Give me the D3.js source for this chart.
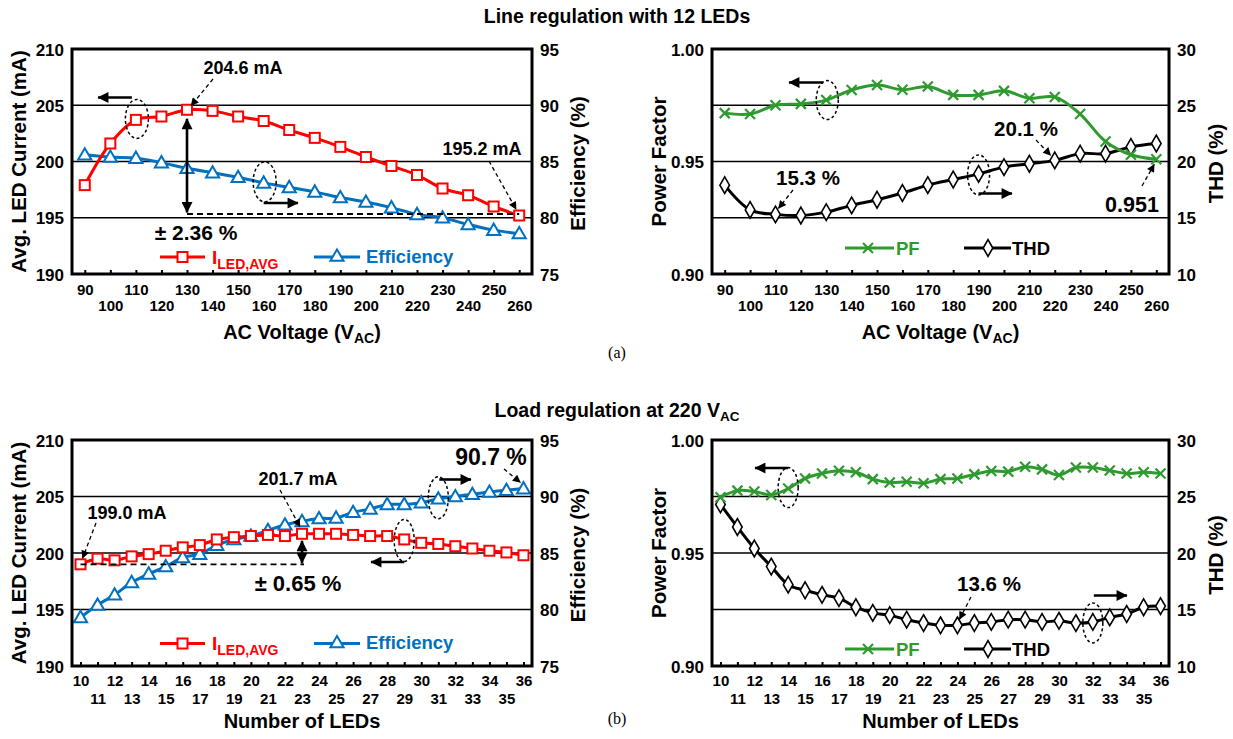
<!DOCTYPE html>
<html><head><meta charset="utf-8">
<script src="https://cdn.jsdelivr.net/npm/d3@7"></script>
<style>
body{margin:0;background:#fff;}
svg{display:block;}
text{font-family:Arial,"Liberation Sans",Helvetica,sans-serif;font-weight:bold;fill:#000;}
</style>
</head><body>
<svg id="c" width="1233" height="739"></svg>
<script>
// ---------- DATA ----------
const voltages = [90,100,110,120,130,140,150,160,170,180,190,200,210,220,230,240,250,260];
const iledVsVoltage = [197.9,201.6,203.7,204.0,204.6,204.5,204.0,203.6,202.8,202.1,201.3,200.4,199.6,198.8,197.6,197.0,196.0,195.2];
const effVsVoltage = [85.6,85.4,85.3,84.9,84.4,84.0,83.6,83.1,82.7,82.3,81.8,81.4,80.9,80.3,80.0,79.4,78.9,78.6];
const pfVsVoltage = [0.9715,0.9711,0.9750,0.9756,0.9773,0.9818,0.9840,0.9819,0.9833,0.9796,0.9796,0.9814,0.9781,0.9787,0.9711,0.9589,0.9530,0.9510];
const thdVsVoltage = [17.9,15.7,15.3,15.2,15.5,16.1,16.6,17.2,17.9,18.4,18.9,19.5,19.8,20.1,20.7,20.7,21.3,21.6];

const ledCounts = [10,11,12,13,14,15,16,17,18,19,20,21,22,23,24,25,26,27,28,29,30,31,32,33,34,35,36];
const iledVsLeds = [199.0,199.5,199.35,199.7,199.9,200.2,200.5,200.7,201.2,201.4,201.5,201.6,201.5,201.7,201.7,201.7,201.6,201.5,201.5,201.2,200.9,200.8,200.6,200.4,200.2,200.05,199.8];
const effVsLeds = [79.3,80.4,81.3,82.4,83.15,83.8,84.6,84.9,85.7,86.2,86.5,87.0,87.5,87.8,88.05,88.1,88.6,88.9,89.3,89.3,89.45,89.8,90.0,90.2,90.4,90.55,90.7];
const pfVsLeds = [0.9747,0.9776,0.9772,0.9757,0.9785,0.9830,0.9852,0.9864,0.9857,0.9827,0.9812,0.9815,0.9809,0.9827,0.9830,0.9848,0.9863,0.9860,0.9882,0.9870,0.9845,0.9878,0.9878,0.9865,0.9852,0.9857,0.9852];
const thdVsLeds = [24.3,22.3,20.4,18.8,17.2,16.7,16.3,16.0,15.2,14.7,14.5,14.1,13.8,13.6,13.6,13.8,13.9,14.1,14.1,13.9,14.0,13.8,13.9,14.3,14.6,15.2,15.3];

const currentTicks = [190,195,200,205,210];
const effTicks = [75,80,85,90,95];
const pfTicks = [0.90,0.95,1.00];
const thdTicks = [10,15,20,25,30];

// ---------- STYLE ----------
const RED = "#ff0000", BLUE = "#0070c0", GREEN = "#2f9a2f", BLACK = "#000";
const svg = d3.select("#c");
const defs = svg.append("defs");
function addMarker(id, w, h){
  defs.append("marker").attr("id", id).attr("viewBox","0 0 10 10")
    .attr("refX",9.5).attr("refY",5).attr("markerUnits","userSpaceOnUse")
    .attr("markerWidth", w).attr("markerHeight", h).attr("orient","auto-start-reverse")
    .append("path").attr("d","M0,0L10,5L0,10z").attr("fill","#000");
}
addMarker("big", 13, 11);
addMarker("small", 10, 8);

function arrow(g, x1,y1,x2,y2, kind, both){
  const l = g.append("line").attr("x1",x1).attr("y1",y1).attr("x2",x2).attr("y2",y2)
    .attr("stroke","#000").attr("marker-end", `url(#${kind})`);
  if (kind === "small") l.attr("stroke-width",1.3).attr("stroke-dasharray","4,3");
  else l.attr("stroke-width",2.6);
  if (both) l.attr("marker-start", `url(#${kind})`);
}
function ellipse(g, cx, cy, rx, ry){
  g.append("ellipse").attr("cx",cx).attr("cy",cy).attr("rx",rx).attr("ry",ry)
    .attr("fill","none").attr("stroke","#000").attr("stroke-width",1.5).attr("stroke-dasharray","3,2.5");
}
function label(g, x, y, txt, size, anchor){
  return g.append("text").attr("x",x).attr("y",y).attr("font-size",size)
    .attr("text-anchor",anchor||"middle").text(txt);
}

function drawMarker(g, type, x, y, color){
  if (type === "square"){
    g.append("rect").attr("x",x-5).attr("y",y-5).attr("width",10).attr("height",10)
      .attr("fill","#fff").attr("stroke",color).attr("stroke-width",2);
  } else if (type === "triangle"){
    g.append("path").attr("d", d3.symbol(d3.symbolTriangle, 75)()).attr("transform",`translate(${x},${y+1})`)
      .attr("fill","#fff").attr("stroke",color).attr("stroke-width",2);
  } else if (type === "x"){
    g.append("path").attr("d",`M${x-5},${y-5}L${x+5},${y+5}M${x-5},${y+5}L${x+5},${y-5}`)
      .attr("stroke",color).attr("stroke-width",2.2).attr("fill","none");
  } else if (type === "diamond"){
    g.append("path").attr("d", d3.symbol(d3.symbolDiamond, 80)()).attr("transform",`translate(${x},${y})`)
      .attr("fill","#fff").attr("stroke",color).attr("stroke-width",1.6);
  }
}

function series(g, cats, vals, x, y, color, marker){
  const pts = cats.map((c,i)=>[x(c), y(vals[i])]);
  g.append("path").datum(pts).attr("d", d3.line().curve(d3.curveCatmullRom.alpha(0.5)))
    .attr("fill","none").attr("stroke",color).attr("stroke-width",3);
  pts.forEach(p=>drawMarker(g, marker, p[0], p[1], color));
}

function panel(o){
  const g = svg.append("g");
  const x = d3.scalePoint().domain(o.cats).range([o.x0,o.x1]).padding(0.5);
  const yL = d3.scaleLinear().domain(o.leftDomain).range([o.y1,o.y0]);
  const yR = d3.scaleLinear().domain(o.rightDomain).range([o.y1,o.y0]);
  g.append("g").selectAll("line").data(o.rightTicks.slice(1,-1)).join("line")
    .attr("x1",o.x0).attr("x2",o.x1).attr("y1",d=>yR(d)).attr("y2",d=>yR(d))
    .attr("stroke","#000").attr("stroke-width",1.5);
  const la = g.append("g").attr("transform",`translate(${o.x0},0)`)
    .call(d3.axisLeft(yL).tickValues(o.leftTicks).tickSize(0).tickPadding(8).tickFormat(o.leftFmt));
  la.select(".domain").remove();
  la.attr("font-family",null);
  la.selectAll("text").attr("font-size",17).attr("dy","0.36em");
  const ra = g.append("g").attr("transform",`translate(${o.x1},0)`)
    .call(d3.axisRight(yR).tickValues(o.rightTicks).tickSize(0).tickPadding(8).tickFormat(d3.format("d")));
  ra.select(".domain").remove();
  ra.attr("font-family",null);
  ra.selectAll("text").attr("font-size",17).attr("dy","0.36em");
  const ba = g.append("g").attr("transform",`translate(0,${o.y1})`)
    .call(d3.axisBottom(x).tickSize(-4).tickPadding(0));
  ba.select(".domain").remove();
  ba.selectAll(".tick line").attr("stroke-width",2);
  ba.attr("font-family",null);
  ba.selectAll("text").attr("font-size",15).attr("dy",null)
    .attr("y",(d,i)=> i%2===0 ? o.row1 : o.row2);
  label(g, 0, 0, o.leftTitle, 20.5).attr("transform",`translate(${o.leftTitleX},${(o.y0+o.y1)/2}) rotate(-90)`).attr("dy","0.35em");
  label(g, 0, 0, o.rightTitle, 20.5).attr("transform",`translate(${o.rightTitleX},${(o.y0+o.y1)/2+2}) rotate(-90)`).attr("dy","0.35em");
  const xt = label(g, (o.x0+o.x1)/2, o.xTitleY, o.xTitle, 20);
  if (o.xTitleSub){ xt.append("tspan").attr("font-size",14).attr("dy",4).text(o.xTitleSub);
    xt.append("tspan").attr("dy",-4).text(")"); }
  return {g, x, yL, yR};
}

// ---------- TITLES ----------
label(svg, 617, 23, "Line regulation with 12 LEDs", 19.5);
const t2 = label(svg, 617, 417, "Load regulation at 220 V", 19.5);
t2.append("tspan").attr("font-size",13.5).attr("dy",4).text("AC");
svg.append("text").attr("x",617).attr("y",358).attr("text-anchor","middle")
  .style("font-family","'Liberation Serif','Times New Roman',serif").style("font-weight","normal").attr("font-size",16).text("(a)");
svg.append("text").attr("x",617).attr("y",724).attr("text-anchor","middle")
  .style("font-family","'Liberation Serif','Times New Roman',serif").style("font-weight","normal").attr("font-size",16).text("(b)");

// ---------- PANEL A-LEFT ----------
{
  const P = panel({cats:voltages, x0:72, x1:532, y0:49, y1:274, leftDomain:[190,210], rightDomain:[75,95],
    leftTicks:currentTicks, rightTicks:effTicks, leftFmt:d3.format("d"), row1:21, row2:37,
    leftTitle:"Avg. LED Current (mA)", leftTitleX:19, rightTitle:"Efficiency (%)", rightTitleX:578,
    xTitle:"AC Voltage (V", xTitleSub:"AC", xTitleY:339});
  const {g,x,yL,yR} = P;
  series(g, voltages, effVsVoltage, x, yR, BLUE, "triangle");
  series(g, voltages, iledVsVoltage, x, yL, RED, "square");
  g.append("line").attr("x1",x(130)).attr("x2",x(260)).attr("y1",yL(195.2)-1.5).attr("y2",yL(195.2)-1.5)
    .attr("stroke","#000").attr("stroke-width",1.8).attr("stroke-dasharray","6,4");
  arrow(g, x(130), yL(204.6)+9, x(130), yL(195.2)-3, "big", true);
  label(g, 196, 239.5, "± 2.36 %", 21);
  label(g, 243, 74, "204.6 mA", 18);
  arrow(g, 213, 79, x(130)+4, yL(204.6)-4, "small");
  label(g, 482, 155, "195.2 mA", 18);
  arrow(g, 489, 161, x(260)-3, yL(195.2)-6, "small");
  ellipse(g, x(110)+1, yL(203.7)-1, 11.5, 19.5);
  arrow(g, x(110)-4, 97.5, 98, 97.5, "big");
  ellipse(g, x(160)+1, yR(83.1)-1, 11.5, 20);
  arrow(g, x(160), 203, 298, 203, "big");
  g.append("line").attr("x1",160).attr("x2",205).attr("y1",257).attr("y2",257).attr("stroke",RED).attr("stroke-width",3);
  drawMarker(g,"square",182.5,257,RED);
  const lt = label(g, 212, 263.5, "I", 19, "start").style("fill",RED);
  lt.append("tspan").attr("font-size",14).attr("dy",5).text("LED,AVG");
  g.append("line").attr("x1",314).attr("x2",360).attr("y1",257).attr("y2",257).attr("stroke",BLUE).attr("stroke-width",3);
  drawMarker(g,"triangle",337,256,BLUE);
  label(g, 366, 263, "Efficiency", 18.5, "start").style("fill",BLUE);
  g.append("rect").attr("x",72).attr("y",49).attr("width",460).attr("height",225).attr("fill","none").attr("stroke","#000").attr("stroke-width",3);
}

// ---------- PANEL A-RIGHT ----------
{
  const P = panel({cats:voltages, x0:712, x1:1169, y0:49, y1:274, leftDomain:[0.90,1.00], rightDomain:[10,30],
    leftTicks:pfTicks, rightTicks:thdTicks, leftFmt:d3.format(".2f"), row1:21, row2:37,
    leftTitle:"Power Factor", leftTitleX:659, rightTitle:"THD (%)", rightTitleX:1216,
    xTitle:"AC Voltage (V", xTitleSub:"AC", xTitleY:339});
  const {g,x,yL,yR} = P;
  series(g, voltages, thdVsVoltage, x, yR, BLACK, "diamond");
  series(g, voltages, pfVsVoltage, x, yL, GREEN, "x");
  ellipse(g, x(130)+1, yL(0.9773), 11, 19.5);
  arrow(g, x(130)-3, 82.5, 789, 82.5, "big");
  ellipse(g, x(190), yR(18.9)+1, 11, 20);
  arrow(g, x(190), 193.5, 1012, 193.5, "big");
  label(g, 808, 185, "15.3 %", 20.5);
  arrow(g, 793, 190, x(110)+3, yR(15.3)-6, "small");
  label(g, 1026, 136, "20.1 %", 20.5);
  arrow(g, 1036, 140, x(220)-4, yR(20.1)-5, "small");
  label(g, 1132, 212, "0.951", 21.5);
  arrow(g, 1142, 186, x(260)-2, yL(0.951)+5, "small");
  g.append("line").attr("x1",845).attr("x2",894).attr("y1",248).attr("y2",248).attr("stroke",GREEN).attr("stroke-width",3);
  drawMarker(g,"x",868,248,GREEN);
  label(g, 896, 254.5, "PF", 18.5, "start").style("fill",GREEN);
  g.append("line").attr("x1",964).attr("x2",1011).attr("y1",248).attr("y2",248).attr("stroke",BLACK).attr("stroke-width",3);
  drawMarker(g,"diamond",988,248,BLACK);
  label(g, 1012, 254.5, "THD", 18.5, "start");
  g.append("rect").attr("x",712).attr("y",49).attr("width",457).attr("height",225).attr("fill","none").attr("stroke","#000").attr("stroke-width",3);
}

// ---------- PANEL B-LEFT ----------
{
  const P = panel({cats:ledCounts, x0:72, x1:532, y0:440, y1:666, leftDomain:[190,210], rightDomain:[75,95],
    leftTicks:currentTicks, rightTicks:effTicks, leftFmt:d3.format("d"), row1:20, row2:38,
    leftTitle:"Avg. LED Current (mA)", leftTitleX:19, rightTitle:"Efficiency (%)", rightTitleX:578,
    xTitle:"Number of LEDs", xTitleY:728});
  const {g,x,yL,yR} = P;
  series(g, ledCounts, effVsLeds, x, yR, BLUE, "triangle");
  series(g, ledCounts, iledVsLeds, x, yL, RED, "square");
  g.append("line").attr("x1",x(10)).attr("x2",x(23)+2).attr("y1",yL(199.0)).attr("y2",yL(199.0))
    .attr("stroke","#000").attr("stroke-width",1.8).attr("stroke-dasharray","6,4");
  arrow(g, x(23), yL(201.7)+7, x(23), yL(199.0)-1, "big", true);
  label(g, 298, 591, "± 0.65 %", 22);
  label(g, 127, 519, "199.0 mA", 18);
  arrow(g, 96, 523, x(10)+2, yL(199.0)-6, "small");
  label(g, 298, 485, "201.7 mA", 18);
  arrow(g, 280, 490, x(23)-2, yL(201.7)-7, "small");
  label(g, 491, 465, "90.7 %", 23);
  arrow(g, 504, 469, x(36)-3, yR(90.7)-6, "small");
  ellipse(g, x(31), yR(89.8)-1, 10, 21);
  arrow(g, x(31)+1, 479.5, 471, 479.5, "big");
  ellipse(g, x(29), yL(201.2)+1, 10, 21);
  arrow(g, x(29), 562, 371, 562, "big");
  g.append("line").attr("x1",160).attr("x2",205).attr("y1",643.5).attr("y2",643.5).attr("stroke",RED).attr("stroke-width",3);
  drawMarker(g,"square",182.5,643.5,RED);
  const lt = label(g, 212, 649.5, "I", 19, "start").style("fill",RED);
  lt.append("tspan").attr("font-size",14).attr("dy",5).text("LED,AVG");
  g.append("line").attr("x1",314).attr("x2",360).attr("y1",643.5).attr("y2",643.5).attr("stroke",BLUE).attr("stroke-width",3);
  drawMarker(g,"triangle",337,642.5,BLUE);
  label(g, 366, 649, "Efficiency", 18.5, "start").style("fill",BLUE);
  g.append("rect").attr("x",72).attr("y",440).attr("width",460).attr("height",226).attr("fill","none").attr("stroke","#000").attr("stroke-width",3);
}

// ---------- PANEL B-RIGHT ----------
{
  const P = panel({cats:ledCounts, x0:712, x1:1169, y0:440, y1:666, leftDomain:[0.90,1.00], rightDomain:[10,30],
    leftTicks:pfTicks, rightTicks:thdTicks, leftFmt:d3.format(".2f"), row1:20, row2:38,
    leftTitle:"Power Factor", leftTitleX:659, rightTitle:"THD (%)", rightTitleX:1216,
    xTitle:"Number of LEDs", xTitleY:728});
  const {g,x,yL,yR} = P;
  series(g, ledCounts, thdVsLeds, x, yR, BLACK, "diamond");
  series(g, ledCounts, pfVsLeds, x, yL, GREEN, "x");
  ellipse(g, x(14), yL(0.9785)-1, 10, 20);
  arrow(g, x(14), 468, 755, 468, "big");
  label(g, 989, 591, "13.6 %", 20.5);
  arrow(g, 971, 597, x(24)+2, yR(13.6)-6, "small");
  ellipse(g, x(32), yR(13.9)+1, 10, 20);
  arrow(g, x(32)+1, 595.5, 1127, 595.5, "big");
  g.append("line").attr("x1",845).attr("x2",894).attr("y1",649).attr("y2",649).attr("stroke",GREEN).attr("stroke-width",3);
  drawMarker(g,"x",868,649,GREEN);
  label(g, 896, 655.5, "PF", 18.5, "start").style("fill",GREEN);
  g.append("line").attr("x1",964).attr("x2",1011).attr("y1",649).attr("y2",649).attr("stroke",BLACK).attr("stroke-width",3);
  drawMarker(g,"diamond",988,649,BLACK);
  label(g, 1012, 655.5, "THD", 18.5, "start");
  g.append("rect").attr("x",712).attr("y",440).attr("width",457).attr("height",226).attr("fill","none").attr("stroke","#000").attr("stroke-width",3);
}
</script>
</body></html>
